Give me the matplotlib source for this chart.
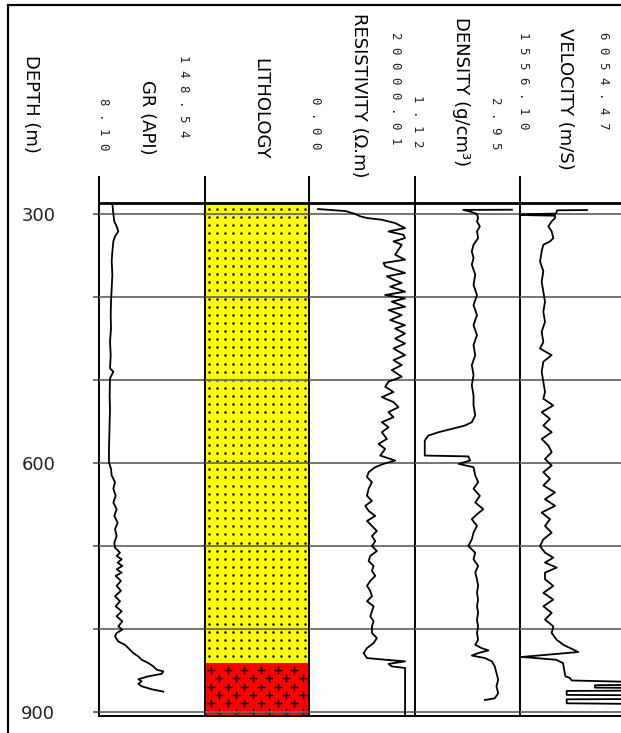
import numpy as np
import matplotlib
matplotlib.use('Agg')
import matplotlib.pyplot as plt
from matplotlib.lines import Line2D
from matplotlib.patches import Rectangle

# ---------------- data ----------------
gr_depth = [286.7, 300, 308.9, 314.9, 321, 327, 333, 345, 357, 373, 389.5, 405.6, 421.8, 437.9, 454, 470,
            486, 490, 498, 518.5, 534.7, 550.8, 567, 583, 599, 607, 615, 623, 631, 639.5, 647.6, 655.6,
            663.7, 671.8, 679.8, 687.9, 696, 702, 708, 712, 716, 720, 724, 728, 732, 736, 742, 748, 754,
            760.5, 766.5, 772.6, 778.6, 784.7, 790.7, 796.8, 800.8, 804.8, 808.9, 815, 819, 825, 829, 833,
            837, 841, 845, 849, 851, 854, 857, 860.5, 863, 866, 869, 872.6, 875.4]
gr_api = [25.8, 27.1, 28.4, 31.5, 33.7, 29.3, 27.1, 25.8, 24.9, 25.8,
          24.9, 24.0, 23.6, 24.0, 22.7, 23.6, 22.7, 27.1, 22.7, 22.2,
          22.7, 22.2, 21.8, 21.3, 21.3, 24.0, 24.9, 29.3, 27.1, 30.2,
          27.1, 31.5, 28.4, 32.8, 29.3, 31.5, 28.4, 29.3, 35.9, 31.5,
          38.1, 32.8, 39.0, 31.5, 38.1, 30.2, 37.2, 31.5, 37.2, 29.3,
          35.9, 30.2, 38.1, 31.5, 39.0, 33.7, 39.0, 31.5, 29.3, 33.7,
          42.5, 49.2, 53.6, 60.2, 64.6, 73.5, 80.1, 84.5, 93.3, 91.1,
          73.5, 60.2, 64.6, 60.2, 64.6, 77.9, 93.3]

res_depth = [294.0, 296.4, 300.0, 302.8, 304.8, 306.9, 310.9, 314.9, 316.9, 321.0,
             325.0, 329.0, 333.0, 337.0, 343.0, 349.0, 355.0, 359.0, 363.0, 367.0,
             371.0, 375.0, 379.0, 383.0, 387.5, 393.5, 397.6, 401.6, 405.6, 411.7,
             415.7, 421.8, 427.8, 433.9, 437.9, 444.0, 450.0, 456.0, 462.0, 470.0,
             476.0, 482.0, 488.0, 496.0, 502.0, 508.0, 514.5, 520.6, 526.6, 532.7,
             538.7, 544.8, 550.8, 556.9, 562.9, 571.0, 577.0, 583.0, 591.0, 597.0,
             601.0, 605.0, 611.0, 617.0, 623.0, 631.0, 639.5, 645.6, 651.6, 657.7,
             663.7, 669.8, 675.8, 681.9, 687.9, 694.0, 700.0, 706.0, 712.0, 718.0,
             724.0, 730.0, 736.0, 742.0, 748.0, 754.0, 760.5, 766.5, 772.6, 778.6,
             784.7, 790.7, 796.8, 804.8, 810.9, 816.9, 823.0, 829.0, 835.0, 837.0,
             839.0, 842.0, 845.0, 847.0, 904.8]
res_ohmm = [1700, 6900, 8750, 9690, 10940, 13750, 16250, 17500, 18125, 15000,
            17810, 18125, 15940, 17500, 16875, 16250, 18125, 14060, 14375, 16250,
            18125, 14690, 15940, 17500, 15310, 18125, 14375, 18125, 15625, 18125,
            15000, 17500, 15310, 18125, 16250, 18125, 16250, 18125, 15940, 18125,
            15940, 17500, 15625, 17500, 15000, 14375, 15940, 13750, 15940, 16875,
            15000, 15940, 13750, 15000, 13750, 14690, 13125, 14375, 13440, 16250,
            14060, 12500, 11250, 10940, 11875, 11250, 10940, 11875, 10625, 11250,
            12500, 10940, 11875, 12810, 11875, 12500, 11875, 12810, 11560, 11250,
            12190, 11875, 12500, 11560, 10940, 11560, 11875, 10940, 12190, 11875,
            11560, 12190, 11875, 11875, 12810, 12190, 10940, 10310, 10940, 14375,
            18125, 15000, 15625, 18125, 18125]

den_depth = [294.8, 295.0, 297.6, 300.0, 304.8, 308.9, 314.9, 321.0, 329.0, 337.0,
             345.0, 353.0, 361.0, 373.0, 385.5, 397.6, 409.7, 421.8, 433.9, 446.0,
             458.0, 470.0, 482.0, 494.0, 506.5, 518.5, 530.6, 542.7, 550.8, 554.8,
             558.9, 562.9, 567.0, 573.0, 591.0, 592.0, 597.0, 601.0, 605.0, 615.0,
             623.0, 631.0, 639.5, 647.6, 655.6, 661.7, 667.7, 675.8, 683.9, 692.0,
             700.0, 708.0, 716.0, 724.0, 732.0, 740.0, 748.0, 756.5, 764.5, 772.6,
             780.6, 788.7, 796.8, 804.8, 813.0, 819.0, 823.0, 825.8, 829.0, 832.0,
             835.0, 839.0, 845.0, 853.0, 861.0, 869.0, 877.4, 883.5, 885.5]
den_gcc = [2.81, 1.96, 2.11, 2.20, 2.22, 2.20, 2.25, 2.20, 2.22, 2.14,
           2.11, 2.14, 2.11, 2.17, 2.14, 2.20, 2.14, 2.20, 2.14, 2.20,
           2.14, 2.17, 2.11, 2.14, 2.11, 2.14, 2.14, 2.17, 2.11, 1.99,
           1.76, 1.53, 1.35, 1.29, 1.29, 2.05, 2.08, 1.88, 2.14, 2.17,
           2.22, 2.14, 2.25, 2.17, 2.31, 2.20, 2.11, 2.20, 2.14, 2.11,
           2.05, 2.17, 2.14, 2.22, 2.17, 2.20, 2.22, 2.20, 2.22, 2.20,
           2.22, 2.20, 2.22, 2.20, 2.22, 2.17, 2.28, 2.40, 2.22, 2.11,
           2.34, 2.46, 2.51, 2.54, 2.57, 2.54, 2.57, 2.51, 2.34]

vel_depth = [295.2, 295.5, 299.5, 300.2, 301.2, 302.0, 304.8, 308.9, 314.9, 321.0,
             329.0, 333.0, 337.0, 345.0, 357.0, 369.0, 381.5, 393.5, 405.6, 417.7,
             429.8, 442.0, 454.0, 462.0, 470.0, 478.0, 490.0, 502.0, 514.5, 522.6,
             530.6, 538.7, 546.8, 554.8, 562.9, 571.0, 579.0, 587.0, 595.0, 603.0,
             611.0, 619.0, 627.0, 635.5, 643.5, 651.6, 659.7, 667.7, 675.8, 683.9,
             692.0, 700.0, 708.0, 714.0, 720.0, 726.0, 732.0, 740.0, 748.0, 756.5,
             764.5, 772.6, 780.6, 788.7, 796.8, 804.8, 812.9, 819.0, 827.7, 833.7,
             834.5, 837.0, 841.0, 850.0, 857.0, 859.0, 862.0, 863.9, 867.3, 867.7,
             870.6, 871.0, 874.2, 874.6, 879.4, 879.8, 884.3, 884.7, 889.5, 890.3,
             904.8]
vel_ms = [4426, 3141, 3100, 1599, 1599, 3055, 3055, 2913, 2770, 2913,
          2984, 2841, 2556, 2484, 2413, 2556, 2484, 2556, 2627, 2556,
          2627, 2484, 2556, 2413, 2913, 2556, 2484, 2556, 2627, 2556,
          2984, 2484, 2841, 2556, 2913, 2484, 2770, 2913, 2627, 2913,
          2556, 2841, 2556, 3055, 2627, 3055, 2484, 2841, 2627, 2913,
          2556, 2413, 2627, 2984, 2627, 3127, 2627, 2627, 2984, 2556,
          2984, 2556, 2913, 2627, 2984, 2913, 3127, 3413, 4055, 1627,
          2000, 3100, 3398, 3455, 3500, 3698, 3770, 6626, 6626, 4769,
          4769, 6626, 6626, 3555, 3555, 6626, 6626, 3555, 3555, 6626,
          6626]

litho_top = [286.7, 841.0]
litho_base = [841.0, 904.8]
litho_name = ['Sandstone', 'Basement']
litho_color = ['#ffff00', '#ff0000']
litho_symbol = ['.', '+']

track_titles = ['GR (API)', 'LITHOLOGY', 'RESISTIVITY (Ω.m)', 'DENSITY (g/cm³)', 'VELOCITY (m/S)']
track_min = [8.10, None, 0.00, 1.12, 1556.10]
track_max = [148.54, None, 20000.01, 2.95, 6054.47]

depth_ticks = [300, 400, 500, 600, 700, 800, 900]
depth_labels = ['300', '', '', '600', '', '', '900']
depth_title = 'DEPTH (m)'

# ---------------- layout ----------------
W, H = 621, 733
fig = plt.figure(figsize=(W / 100, H / 100), dpi=100)


def fx(p):
    return p / W


def fy(p):
    return 1 - p / H


edges = [99, 205, 309, 415, 520, 625]
y_top, y_bot = 203, 716
d_top, d_bot = 286.7, 904.8
grid_color = '#6a6a6a'

# outer frame
fig.add_artist(Rectangle((fx(8), fy(760)), 1.2, fy(5) - fy(760), transform=fig.transFigure,
                         fill=False, ec='black', lw=1.6))

axes = []
for i in range(5):
    ax = fig.add_axes([fx(edges[i]), fy(y_bot), fx(edges[i + 1]) - fx(edges[i]), fy(y_top) - fy(y_bot)])
    ax.set_ylim(d_bot, d_top)
    ax.set_xticks([])
    for s in ax.spines.values():
        s.set_color('black')
        s.set_linewidth(1.4)
    ax.spines['top'].set_linewidth(2.0)
    ax.spines['right'].set_visible(i == 4)
    for d in depth_ticks:
        ax.axhline(d, color=grid_color, lw=1.3, zorder=3)
    if i == 0:
        ax.set_yticks(depth_ticks)
        ax.set_yticklabels(depth_labels)
        ax.tick_params(axis='y', direction='out', length=4.5, width=1.3, color=grid_color,
                       pad=27, labelsize=13, labelcolor='#222222')
    else:
        ax.set_yticks([])
    if track_min[i] is not None:
        ax.set_xlim(track_min[i], track_max[i])
    else:
        ax.set_xlim(0, 1)
    axes.append(ax)

# header separators
for x in edges[:5]:
    fig.add_artist(Line2D([fx(x), fx(x)], [fy(177), fy(y_top)], color='black', lw=1.4))

# curves
lw = 1.3
axes[0].plot(gr_api, gr_depth, color='black', lw=lw, zorder=4)
axes[2].plot(res_ohmm, res_depth, color='black', lw=lw, zorder=4)
axes[3].plot(den_gcc, den_depth, color='black', lw=lw, zorder=4)
axes[4].plot(vel_ms, vel_depth, color='black', lw=lw, zorder=4)

# lithology
axl = axes[1]
for top, base, col, sym in zip(litho_top, litho_base, litho_color, litho_symbol):
    axl.axhspan(top, base, color=col, zorder=1, lw=0)
    if sym == '.':
        xs = np.arange(0.041, 1.0, 0.077)
        ys = np.arange(top + 7.3, base, 9.8)
        X, Y = np.meshgrid(xs, ys)
        axl.plot(X.ravel(), Y.ravel(), 'o', color='black', ms=1.8, mew=0, zorder=2)
    else:
        ys = np.arange(top + 8.4, base, 10.0)
        for k, yy in enumerate(ys):
            xs = np.arange(0.058 + (0.08 if k % 2 else 0.0), 1.0, 0.16)
            axl.plot(xs, np.full_like(xs, yy), '+', color='black', ms=5.5, mew=1.0, zorder=2)

# header texts
title_font = dict(family='DejaVu Sans', fontsize=13, color='black')
num_font = dict(family='DejaVu Sans Mono', fontsize=9, color='#222222')


def htext(x, y, s, **kw):
    fig.text(fx(x), fy(y), s, rotation=270, ha='center', va='top', **kw)


def spaced(v):
    return ' '.join(f'{v:.2f}')


htext(31, 55, depth_title, **title_font)
title_pos = [(147, 80), (260, 58), (359, 13), (461, 17), (565, 28)]
for (x, y), t in zip(title_pos, track_titles):
    htext(x, y, t, **title_font)

min_pos = [(104, 98), None, (316, 97), (418, 95), (524, 32)]
max_pos = [(184, 55), None, (395, 32), (495, 97), (604, 32)]
for i in range(5):
    if track_min[i] is None:
        continue
    htext(*min_pos[i], spaced(track_min[i]), **num_font)
    htext(*max_pos[i], spaced(track_max[i]), **num_font)

fig.savefig('out.png', dpi=100)
